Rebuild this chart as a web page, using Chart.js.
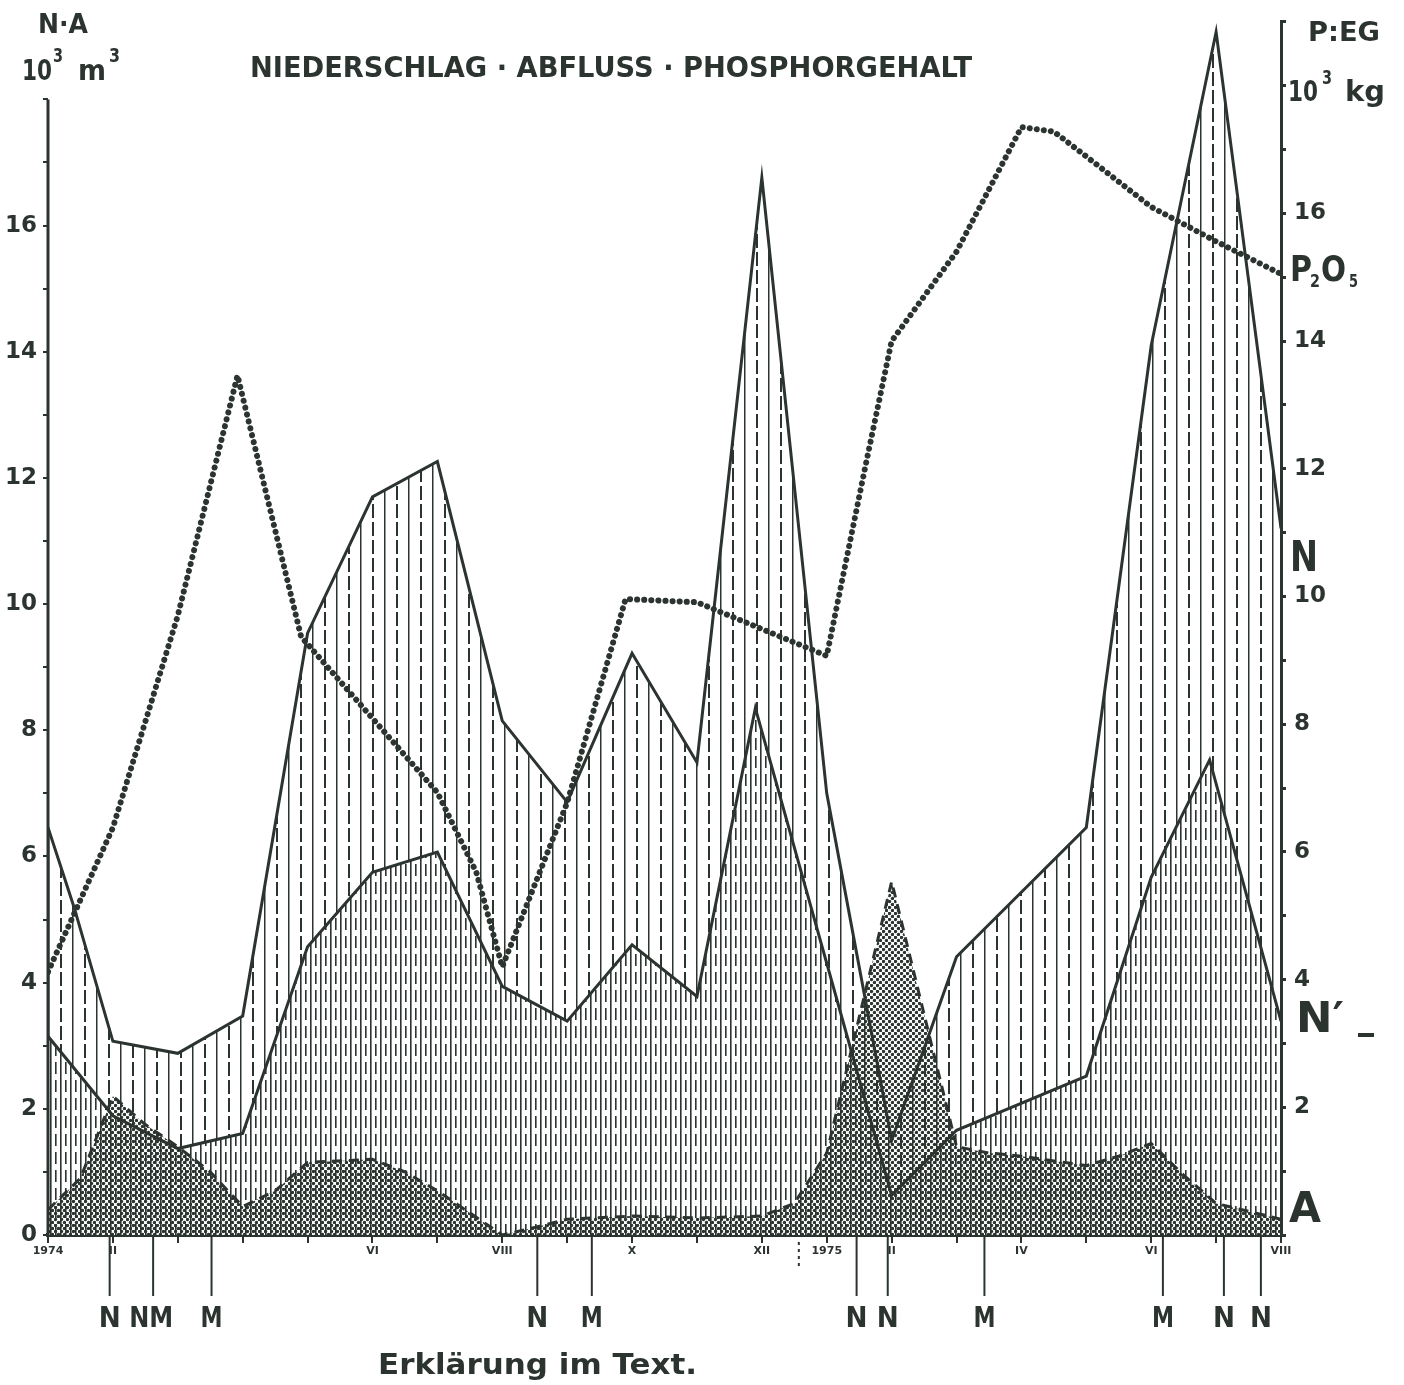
<!DOCTYPE html>
<html>
<head>
<meta charset="utf-8">
<script src="https://cdn.jsdelivr.net/npm/chart.js@4.4.1/dist/chart.umd.min.js"></script>
<style>
  html, body { margin: 0; padding: 0; background: #fff; }
</style>
</head>
<body>
<canvas id="c" width="1404" height="1385"></canvas>
<script>
// months counted from Jan 1974 (0) to Aug 1975 (19)
const monthLabels = ['1974', 'II', '', '', '', 'VI', '', 'VIII', '', 'X', '', 'XII',
                     '1975', 'II', '', 'IV', '', 'VI', '', 'VIII'];

// N - Niederschlag (10^3 m3)
const nMonths = [0, 0.4, 1, 2, 3, 4, 5, 6, 7, 8, 9, 10, 11, 12, 13, 14, 16, 17, 18, 19];
const nValues = [6.46, 5.2, 3.07, 2.88, 3.47, 9.54, 11.7, 12.26, 8.15, 6.86, 9.22, 7.49, 16.76, 7.0, 1.5, 4.41, 6.46, 14.1, 19.07, 11.2];

// N' (10^3 m3)
const n2Months = [0, 1, 2, 3, 4, 5, 6, 7, 8, 9, 10, 10.9, 13, 14, 16, 17, 17.9, 19];
const n2Values = [3.15, 1.89, 1.37, 1.61, 4.57, 5.75, 6.07, 3.94, 3.39, 4.6, 3.78, 8.35, 0.63, 1.66, 2.52, 5.67, 7.53, 3.39];

// A - Abfluss (10^3 m3)
const aMonths = [0, 0.5, 1, 1.5, 2, 2.5, 3, 3.5, 4, 5, 5.5, 6, 7, 7.5, 8, 9, 10, 11, 11.5, 12, 13, 14, 14.5, 15, 16, 16.5, 17, 17.5, 18, 19];
const aValues = [0.4, 0.9, 2.2, 1.75, 1.4, 1.0, 0.45, 0.7, 1.15, 1.2, 1.0, 0.7, 0.0, 0.12, 0.25, 0.3, 0.27, 0.3, 0.5, 1.3, 5.6, 1.4, 1.3, 1.25, 1.1, 1.25, 1.45, 0.95, 0.5, 0.25];

// P2O5 - Phosphorgehalt (10^3 kg)
const pMonths = [0, 1, 2, 2.92, 3.9, 6, 6.6, 7, 8, 8.9, 10, 11, 12, 12.6, 13, 14, 15, 15.5, 16, 17, 18, 19];
const pValues = [4.12, 6.38, 9.7, 13.46, 9.37, 6.93, 5.68, 4.2, 6.77, 9.96, 9.91, 9.49, 9.07, 12.06, 14.0, 15.4, 17.35, 17.28, 16.89, 16.1, 15.56, 15.05];

// event marks below the axis
const markMonths = [0.95, 1.62, 2.52, 7.54, 8.38, 12.46, 12.94, 14.43, 17.18, 18.12, 18.69];
const markLabels = ['N', 'NM', 'M', 'N', 'M', 'N', 'N', 'M', 'M', 'N', 'N'];
const yearBreak = 11.57;

const ink = '#2c3430';
const fontFam = '"DejaVu Sans", sans-serif';

function makePattern(w, h, draw) {
  const c = document.createElement('canvas');
  c.width = w; c.height = h;
  const g = c.getContext('2d');
  draw(g);
  return g.createPattern(c, 'repeat');
}

// light vertical hatching (solid + dashed lines)
const hatchLight = makePattern(24, 18, g => {
  g.fillStyle = ink;
  g.fillRect(0, 0, 1.5, 18);
  g.fillRect(12, 0, 2, 14);
});
// dense vertical hatching, opaque
const hatchDense = makePattern(10, 18, g => {
  g.fillStyle = '#fff';
  g.fillRect(0, 0, 10, 18);
  g.fillStyle = ink;
  g.fillRect(0, 0, 1.6, 18);
  g.fillRect(5, 0, 1.6, 12);
});
// stipple dots
const dots = makePattern(6, 6, g => {
  g.fillStyle = ink;
  g.beginPath(); g.arc(1.5, 1.5, 1.7, 0, Math.PI * 2); g.fill();
  g.beginPath(); g.arc(4.5, 4.5, 1.7, 0, Math.PI * 2); g.fill();
});

function pts(xs, ys) { return xs.map((x, i) => ({ x: x, y: ys[i] })); }

function txt(c, s, x, y, size, w) {
  c.save();
  c.font = 'bold ' + size + 'px ' + fontFam;
  c.textAlign = 'left';
  c.textBaseline = 'alphabetic';
  const m = c.measureText(s).width;
  const k = w ? w / m : 1;
  c.translate(x, y);
  c.scale(k, 1);
  c.fillStyle = ink;
  c.fillText(s, 0, 0);
  c.restore();
}

const annot = {
  id: 'annot',
  afterDraw(chart) {
    const c = chart.ctx;
    const x = chart.scales.x, yL = chart.scales.yL;
    c.save();
    c.strokeStyle = ink;
    // left axis line up to 18
    c.lineWidth = 3;
    c.beginPath();
    c.moveTo(x.left, yL.getPixelForValue(0));
    c.lineTo(x.left, yL.getPixelForValue(18));
    c.stroke();
    // year separator
    c.lineWidth = 2;
    c.setLineDash([3, 4]);
    c.beginPath();
    c.moveTo(x.getPixelForValue(yearBreak), 1242);
    c.lineTo(x.getPixelForValue(yearBreak), 1268);
    c.stroke();
    c.setLineDash([]);
    // event marks
    c.lineWidth = 2;
    markMonths.forEach((m, i) => {
      const px = x.getPixelForValue(m);
      c.beginPath();
      c.moveTo(px, 1237);
      c.lineTo(px, 1296);
      c.stroke();
      const lab = markLabels[i];
      const w = lab.length * 22;
      txt(c, lab, px - w / 2 + (lab === 'NM' ? -2 : 0), 1327, 28, w);
    });
    c.restore();

    // titles and labels
    txt(c, 'NIEDERSCHLAG · ABFLUSS · PHOSPHORGEHALT', 250, 77, 28, 722);
    txt(c, 'N·A', 38, 33, 26, 50);
    txt(c, '10', 22, 80, 28, 30);
    txt(c, '3', 53, 62, 20, 10);
    txt(c, 'm', 78, 80, 28, 28);
    txt(c, '3', 109, 62, 20, 11);
    txt(c, 'P:EG', 1308, 41, 27, 72);
    txt(c, '10', 1288, 101, 28, 30);
    txt(c, '3', 1322, 84, 20, 10);
    txt(c, 'kg', 1345, 101, 28, 40);
    txt(c, 'P', 1290, 281, 36, 22);
    txt(c, '2', 1310, 287, 18, 10);
    txt(c, 'O', 1321, 281, 36, 25);
    txt(c, '5', 1349, 287, 18, 9);
    txt(c, 'N', 1290, 571, 42, 28);
    txt(c, 'N′', 1296, 1032, 42, 48);
    txt(c, 'A', 1289, 1222, 42, 32);
    c.save();
    c.fillStyle = ink;
    c.fillRect(1358, 1033, 16, 4);
    c.restore();
    txt(c, 'Erklärung im Text.', 378, 1374, 28, 319);
  }
};

const tickFont = { family: fontFam, size: 23, weight: 'bold' };

new Chart(document.getElementById('c').getContext('2d'), {
  type: 'line',
  data: {
    datasets: [
      {
        label: 'P2O5', data: pts(pMonths, pValues), yAxisID: 'yR',
        borderColor: ink, borderWidth: 6, borderDash: [0.1, 7], borderCapStyle: 'round',
        pointRadius: 0, fill: false, tension: 0, order: 1
      },
      {
        label: 'A', data: pts(aMonths, aValues), yAxisID: 'yL',
        borderColor: ink, borderWidth: 3, borderDash: [10, 7],
        backgroundColor: dots, fill: 'origin', pointRadius: 0, tension: 0, order: 2
      },
      {
        label: "N'", data: pts(n2Months, n2Values), yAxisID: 'yL',
        borderColor: ink, borderWidth: 3,
        backgroundColor: hatchDense, fill: 'origin', pointRadius: 0, tension: 0, order: 3
      },
      {
        label: 'N', data: pts(nMonths, nValues), yAxisID: 'yL',
        borderColor: ink, borderWidth: 3,
        backgroundColor: hatchLight, fill: 'origin', pointRadius: 0, tension: 0, order: 4
      }
    ]
  },
  options: {
    responsive: false,
    animation: false,
    layout: { padding: { top: 15, left: 0, right: 0, bottom: 0 } },
    plugins: { legend: { display: false }, tooltip: { enabled: false } },
    scales: {
      x: {
        type: 'linear', min: 0, max: 19, z: 1,
        afterFit(s) { s.height = 150; },
        border: { color: ink, width: 4 },
        grid: { drawOnChartArea: false, tickLength: 8, color: ink, lineWidth: 2 },
        ticks: {
          stepSize: 1, autoSkip: false, maxRotation: 0, padding: 2, color: ink,
          font: { family: fontFam, size: 11, weight: 'bold' },
          callback: v => monthLabels[v] || ''
        }
      },
      yL: {
        position: 'left', min: 0, max: 19.23,
        afterFit(s) { s.width = 48; },
        border: { display: false },
        grid: {
          drawOnChartArea: false, tickLength: 5, lineWidth: 2,
          color: c => (c.tick && c.tick.value > 18.01) ? 'rgba(0,0,0,0)' : ink
        },
        ticks: {
          stepSize: 1, autoSkip: false, padding: 6, color: ink, font: tickFont,
          callback: v => (v % 2 === 0 && v <= 16) ? v : ''
        }
      },
      yR: {
        position: 'right', min: 0, max: 19, z: 1,
        afterFit(s) { s.width = 123; },
        border: { color: ink, width: 3 },
        grid: { drawOnChartArea: false, tickLength: 5, color: ink, lineWidth: 3 },
        ticks: {
          stepSize: 1, autoSkip: false, padding: 8, color: ink, font: tickFont,
          callback: v => (v % 2 === 0 && v > 0 && v <= 16) ? v : ''
        }
      }
    }
  },
  plugins: [annot]
});
</script>
</body>
</html>
